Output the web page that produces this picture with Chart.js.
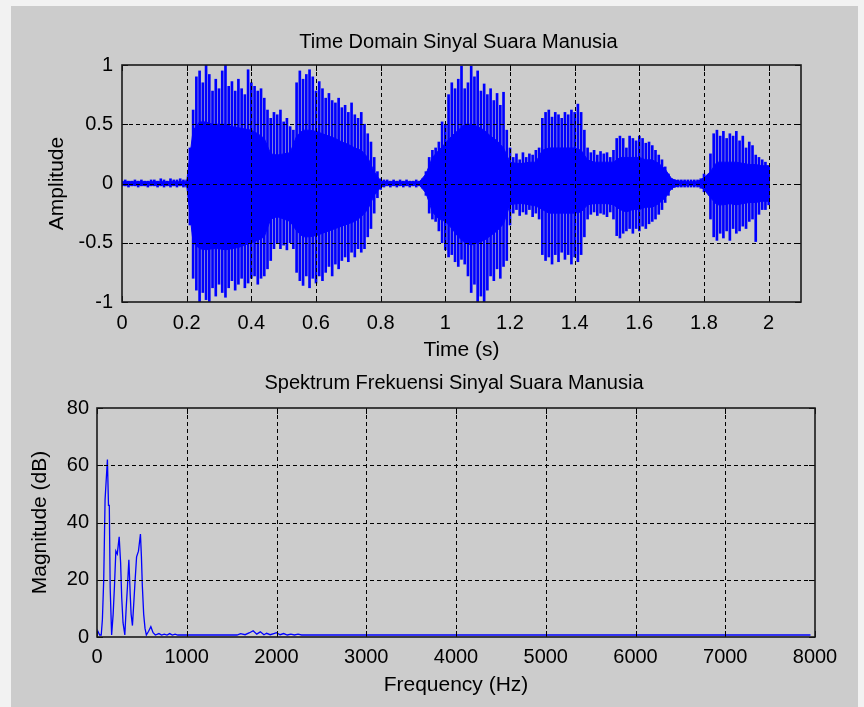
<!DOCTYPE html>
<html><head><meta charset="utf-8">
<script src="https://cdn.jsdelivr.net/npm/chart.js@4.4.1/dist/chart.umd.min.js"></script>
<style>
html,body{margin:0;padding:0;background:#f2f2f2;width:864px;height:707px;overflow:hidden;position:relative}
#fig{position:absolute;left:11px;top:6px;width:847px;height:701px;background:#cccccc}
canvas{position:absolute;left:0}
#c1{top:0}
#c2{top:356px}
</style></head><body>
<div id="fig"></div>
<canvas id="c1" width="864" height="372" style="width:864px;height:372px"></canvas>
<canvas id="c2" width="864" height="351" style="width:864px;height:351px"></canvas>
<script>
// ---------- DATA ----------
const SPIKE_DT = 0.01;   // seconds between envelope readings (peaks)
const CORE_DT = 0.02;    // seconds between readings of the dense core
const spikeHi = [
0.02,0.03,0.02,0.02,0.03,0.02,0.03,0.02,0.02,0.03,
0.03,0.02,0.04,0.03,0.02,0.04,0.03,0.03,0.04,0.03,
0.03,0.30,0.62,0.90,0.95,0.85,1.00,0.92,0.78,0.88,
0.80,0.95,1.00,0.82,0.86,0.78,0.88,0.80,0.75,0.96,
0.85,0.82,0.78,0.80,0.72,0.62,0.55,0.60,0.58,0.62,
0.52,0.55,0.48,0.45,0.85,0.95,0.88,0.92,0.96,0.90,
0.78,0.86,0.80,0.72,0.76,0.70,0.68,0.72,0.64,0.66,
0.60,0.68,0.58,0.55,0.60,0.50,0.42,0.35,0.22,0.10,
0.04,0.03,0.03,0.02,0.03,0.02,0.03,0.02,0.03,0.02,
0.02,0.03,0.02,0.04,0.10,0.22,0.28,0.30,0.35,0.52,
0.50,0.75,0.85,0.80,0.88,0.99,0.80,0.85,0.99,0.90,
0.95,0.78,0.84,0.75,0.80,0.70,0.76,0.66,0.77,0.45,
0.30,0.22,0.25,0.20,0.26,0.22,0.25,0.24,0.28,0.30,
0.55,0.60,0.62,0.56,0.60,0.58,0.55,0.60,0.58,0.62,
0.60,0.67,0.60,0.45,0.30,0.26,0.28,0.24,0.27,0.25,
0.26,0.22,0.28,0.38,0.40,0.38,0.30,0.40,0.38,0.36,
0.40,0.38,0.34,0.35,0.32,0.28,0.24,0.20,0.14,0.08,
0.04,0.03,0.03,0.03,0.03,0.03,0.03,0.03,0.03,0.04,
0.08,0.06,0.25,0.42,0.45,0.40,0.44,0.38,0.42,0.40,
0.44,0.36,0.40,0.30,0.35,0.32,0.24,0.22,0.20,0.18,
0.15];
const spikeLo = [
-0.02,-0.02,-0.03,-0.02,-0.02,-0.03,-0.02,-0.02,-0.03,-0.02,
-0.02,-0.03,-0.02,-0.03,-0.02,-0.03,-0.02,-0.03,-0.02,-0.03,
-0.03,-0.35,-0.80,-0.90,-1.00,-0.92,-0.98,-1.00,-0.88,-0.95,
-0.85,-0.92,-0.96,-0.88,-0.82,-0.90,-0.85,-0.80,-0.88,-0.84,
-0.80,-0.78,-0.85,-0.80,-0.78,-0.72,-0.65,-0.55,-0.50,-0.55,
-0.52,-0.56,-0.50,-0.55,-0.75,-0.82,-0.86,-0.78,-0.88,-0.80,
-0.84,-0.78,-0.82,-0.75,-0.70,-0.78,-0.68,-0.72,-0.65,-0.62,
-0.66,-0.58,-0.62,-0.55,-0.58,-0.55,-0.45,-0.38,-0.25,-0.12,
-0.05,-0.03,-0.02,-0.03,-0.02,-0.03,-0.02,-0.03,-0.02,-0.03,
-0.02,-0.03,-0.02,-0.04,-0.10,-0.25,-0.30,-0.32,-0.40,-0.50,
-0.56,-0.62,-0.60,-0.66,-0.70,-0.64,-0.68,-0.78,-0.92,-0.85,
-1.00,-0.95,-1.00,-0.90,-0.78,-0.82,-0.72,-0.80,-0.70,-0.65,
-0.35,-0.25,-0.22,-0.27,-0.24,-0.26,-0.22,-0.28,-0.25,-0.30,
-0.60,-0.65,-0.62,-0.68,-0.60,-0.66,-0.58,-0.64,-0.60,-0.68,
-0.62,-0.66,-0.60,-0.45,-0.30,-0.26,-0.24,-0.27,-0.25,-0.26,
-0.28,-0.24,-0.30,-0.44,-0.46,-0.42,-0.40,-0.38,-0.42,-0.38,
-0.40,-0.36,-0.38,-0.34,-0.32,-0.30,-0.26,-0.22,-0.16,-0.10,
-0.05,-0.03,-0.03,-0.03,-0.03,-0.03,-0.03,-0.03,-0.03,-0.04,
-0.07,-0.05,-0.30,-0.45,-0.48,-0.42,-0.46,-0.40,-0.48,-0.38,
-0.42,-0.40,-0.36,-0.38,-0.32,-0.30,-0.49,-0.26,-0.22,-0.22,
-0.18];
const coreHi = [
0.015,0.015,0.015,0.015,0.015,0.015,0.015,0.015,0.015,0.015,
0.015,0.45,0.52,0.52,0.50,0.50,0.50,0.48,0.47,0.46,
0.45,0.42,0.38,0.25,0.24,0.25,0.26,0.40,0.45,0.45,
0.44,0.42,0.40,0.38,0.35,0.33,0.30,0.28,0.22,0.10,
0.02,0.015,0.015,0.015,0.015,0.015,0.015,0.08,0.22,0.28,
0.34,0.40,0.45,0.50,0.50,0.48,0.45,0.40,0.36,0.30,
0.18,0.17,0.17,0.18,0.18,0.28,0.30,0.30,0.30,0.30,
0.30,0.28,0.20,0.18,0.18,0.18,0.18,0.22,0.22,0.22,
0.22,0.20,0.20,0.17,0.12,0.04,0.02,0.015,0.015,0.015,
0.05,0.10,0.18,0.18,0.18,0.18,0.17,0.16,0.16,0.15,
0.15];
const coreLo = [
-0.015,-0.015,-0.015,-0.015,-0.015,-0.015,-0.015,-0.015,-0.015,-0.015,
-0.015,-0.50,-0.55,-0.56,-0.55,-0.55,-0.56,-0.55,-0.54,-0.52,
-0.50,-0.48,-0.45,-0.30,-0.28,-0.30,-0.32,-0.40,-0.45,-0.45,
-0.44,-0.42,-0.40,-0.38,-0.36,-0.34,-0.32,-0.28,-0.22,-0.10,
-0.03,-0.015,-0.015,-0.015,-0.015,-0.015,-0.015,-0.08,-0.24,-0.30,
-0.32,-0.38,-0.45,-0.50,-0.52,-0.50,-0.48,-0.44,-0.40,-0.34,
-0.18,-0.17,-0.17,-0.18,-0.19,-0.22,-0.25,-0.25,-0.25,-0.25,
-0.25,-0.24,-0.18,-0.17,-0.17,-0.17,-0.18,-0.22,-0.24,-0.22,
-0.22,-0.20,-0.20,-0.17,-0.12,-0.04,-0.02,-0.015,-0.015,-0.015,
-0.05,-0.12,-0.18,-0.18,-0.17,-0.18,-0.17,-0.16,-0.16,-0.15,
-0.15];
const specFreq = [0,10,30,47,60,75,90,100,116,128,137,147,163,180,195,210,226,247,263,275,
290,310,325,340,355,370,380,395,410,425,441,462,484,495,505,520,535,550,575,600,
625,650,690,720,750,780,810,840,870,900,1560,1600,1650,1700,1740,1780,1820,1860,1890,1930,
1970,2000,2040,2080,2120,2160,2200,2240,2280,2320,7950];
const specMag = [1.5,2.0,0.7,0.7,6,20,48,48,62,46,46,17,0.7,8,18,30,29,35,26,14,
5,0.7,10,18,27,15,8,4,12,20,28,30,36,28,18,8,3,0.7,2,3.6,
1.5,0.7,1.2,0.7,1.0,0.7,1.2,0.7,1.0,0.7,0.7,1.2,0.8,1.5,2.2,1.0,1.8,0.8,1.3,0.8,
1.2,1.5,0.8,1.2,0.7,1.0,0.7,1.0,0.7,0.7,0.7];
const timeTicks = [0,0.2,0.4,0.6,0.8,1,1.2,1.4,1.6,1.8,2];
const timeTickLabels = ['0','0.2','0.4','0.6','0.8','1','1.2','1.4','1.6','1.8','2'];
const ampTicks = [-1,-0.5,0,0.5,1];
const ampTickLabels = ['-1','-0.5','0','0.5','1'];
const freqTicks = [0,1000,2000,3000,4000,5000,6000,7000,8000];
const freqTickLabels = ['0','1000','2000','3000','4000','5000','6000','7000','8000'];
const magTicks = [0,20,40,60,80];
const magTickLabels = ['0','20','40','60','80'];

// ---------- STYLE ----------
const FAMILY = "'Liberation Sans',Arial,sans-serif";
const BLUE = '#0000ff';
Chart.defaults.font.family = FAMILY;
Chart.defaults.color = '#000';

const matlabFrame = {
  id: 'matlabFrame',
  afterDatasetsDraw(chart, args, opts) {
    const {ctx, chartArea: a} = chart;
    const x = chart.scales.x, y = chart.scales.y;
    ctx.save();
    ctx.strokeStyle = '#000';
    ctx.lineWidth = 1;
    ctx.setLineDash([4, 3]);
    ctx.beginPath();
    for (const t of x.ticks) {
      const px = Math.round(x.getPixelForValue(t.value)) + 0.5;
      if (px <= a.left + 2 || px >= a.right - 2) continue;
      ctx.moveTo(px, a.top); ctx.lineTo(px, a.bottom);
    }
    for (const t of y.ticks) {
      const py = Math.round(y.getPixelForValue(t.value)) + 0.5;
      if (py <= a.top + 2 || py >= a.bottom - 2) continue;
      ctx.moveTo(a.left, py); ctx.lineTo(a.right, py);
    }
    ctx.stroke();
    ctx.setLineDash([]);
    ctx.beginPath();
    const L = 6;
    for (const t of x.ticks) {
      const px = Math.round(x.getPixelForValue(t.value)) + 0.5;
      ctx.moveTo(px, a.bottom); ctx.lineTo(px, a.bottom - L);
      ctx.moveTo(px, a.top); ctx.lineTo(px, a.top + L);
    }
    for (const t of y.ticks) {
      const py = Math.round(y.getPixelForValue(t.value)) + 0.5;
      ctx.moveTo(a.left, py); ctx.lineTo(a.left + L, py);
      ctx.moveTo(a.right, py); ctx.lineTo(a.right - L, py);
    }
    ctx.stroke();
    ctx.lineWidth = 1.6;
    ctx.strokeStyle = '#1a1a1a';
    ctx.strokeRect(a.left, a.top, a.right - a.left, a.bottom - a.top);
    // title
    ctx.fillStyle = '#000';
    ctx.font = opts.size + 'px ' + FAMILY;
    ctx.textAlign = 'center';
    ctx.textBaseline = 'middle';
    ctx.fillText(opts.text, (a.left + a.right) / 2 + (opts.dx || 0), opts.y);
    ctx.restore();
  }
};

function fixedTicks(values) {
  return s => { s.ticks = values.map(v => ({value: v})); };
}

const TICK_FONT = {family: FAMILY, size: 20};
const AXIS_FONT = {family: FAMILY, size: 21};

// ---------- TOP: TIME DOMAIN ----------
new Chart(document.getElementById('c1'), {
  type: 'line',
  data: {
    datasets: [
      {
        label: 'coreHi',
        data: coreHi.map((v, i) => ({x: i * CORE_DT, y: v})),
        borderColor: BLUE, backgroundColor: BLUE, borderWidth: 1,
        pointRadius: 0, tension: 0, fill: '+1', order: 2
      },
      {
        label: 'coreLo',
        data: coreLo.map((v, i) => ({x: i * CORE_DT, y: v})),
        borderColor: BLUE, backgroundColor: BLUE, borderWidth: 1,
        pointRadius: 0, tension: 0, fill: false, order: 2
      },
      {
        type: 'bar',
        label: 'peaks',
        data: spikeHi.map((v, i) => ({x: i * SPIKE_DT, y: [spikeLo[i], v]})),
        backgroundColor: BLUE, borderWidth: 0,
        barThickness: 2, order: 1
      }
    ]
  },
  options: {
    responsive: false, animation: false, events: [],
    layout: {padding: {top: 65, right: 63, left: 0, bottom: 0}},
    plugins: {
      legend: {display: false}, tooltip: {enabled: false},
      matlabFrame: {text: 'Time Domain Sinyal Suara Manusia', y: 42, size: 20, dx: -3}
    },
    scales: {
      x: {
        type: 'linear', min: 0, max: 2.1, offset: false,
        afterBuildTicks: fixedTicks(timeTicks),
        afterFit: s => { s.height = 70; },
        ticks: {callback: (v, i) => timeTickLabels[i], padding: 9, maxRotation: 0, autoSkip: false, font: TICK_FONT, color: '#000'},
        grid: {display: false, drawTicks: false},
        border: {display: false},
        title: {display: true, text: 'Time (s)', font: AXIS_FONT, color: '#000', padding: {top: 0, bottom: 9}}
      },
      y: {
        type: 'linear', min: -1, max: 1,
        afterBuildTicks: fixedTicks(ampTicks),
        afterFit: s => { s.width = 122; },
        ticks: {callback: (v, i) => ampTickLabels[i], padding: 9, autoSkip: false, font: TICK_FONT, color: '#000'},
        grid: {display: false, drawTicks: false},
        border: {display: false},
        title: {display: true, text: 'Amplitude', font: AXIS_FONT, color: '#000', padding: {top: 45, bottom: 0}}
      }
    }
  },
  plugins: [matlabFrame]
});

// ---------- BOTTOM: SPECTRUM ----------
new Chart(document.getElementById('c2'), {
  type: 'line',
  data: {
    datasets: [{
      label: 'spectrum',
      data: specFreq.map((f, i) => ({x: f, y: specMag[i]})),
      borderColor: BLUE, borderWidth: 1.3, pointRadius: 0, tension: 0, fill: false
    }]
  },
  options: {
    responsive: false, animation: false, events: [],
    layout: {padding: {top: 52, right: 49, left: 0, bottom: 0}},
    plugins: {
      legend: {display: false}, tooltip: {enabled: false},
      matlabFrame: {text: 'Spektrum Frekuensi Sinyal Suara Manusia', y: 27, size: 20, dx: -2}
    },
    scales: {
      x: {
        type: 'linear', min: 0, max: 8000, offset: false,
        afterBuildTicks: fixedTicks(freqTicks),
        afterFit: s => { s.height = 70; },
        ticks: {callback: (v, i) => freqTickLabels[i], padding: 8, maxRotation: 0, autoSkip: false, font: TICK_FONT, color: '#000'},
        grid: {display: false, drawTicks: false},
        border: {display: false},
        title: {display: true, text: 'Frequency (Hz)', font: AXIS_FONT, color: '#000', padding: {top: 0, bottom: 9}}
      },
      y: {
        type: 'linear', min: 0, max: 80,
        afterBuildTicks: fixedTicks(magTicks),
        afterFit: s => { s.width = 97; },
        ticks: {callback: (v, i) => magTickLabels[i], padding: 8, autoSkip: false, font: TICK_FONT, color: '#000'},
        grid: {display: false, drawTicks: false},
        border: {display: false},
        title: {display: true, text: 'Magnitude (dB)', font: AXIS_FONT, color: '#000', padding: {top: 28, bottom: 0}}
      }
    }
  },
  plugins: [matlabFrame]
});
</script>
</body></html>
